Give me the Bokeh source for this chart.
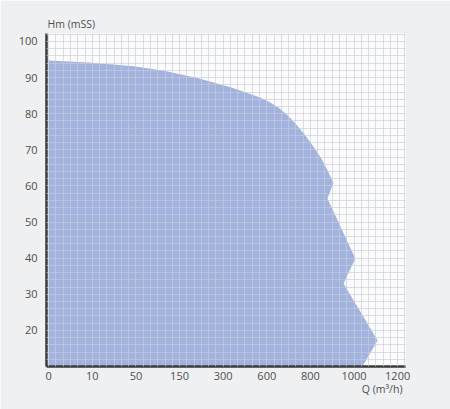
import numpy as np
from bokeh.plotting import figure
from bokeh.models import FixedTicker, Range1d, Title
from bokeh.embed import file_html
from bokeh.resources import INLINE

# Axis ticks (Q axis is evenly spaced at these flow values)
q_ticks = [0, 10, 50, 150, 300, 600, 800, 1000, 1200]
q_tick_labels = ["0", "10", "50", "150", "300", "600", "800", "1000", "1200"]
h_ticks = [20, 30, 40, 50, 60, 70, 80, 90, 100]

# Operating envelope: flow Q (m3/h) and head Hm (m)
q_env = [0, 0, 10, 48, 114, 211, 351, 510, 570, 616, 656, 694, 732, 770, 808, 846, 876, 906,
         878, 1006, 952, 1108, 1038]
h_env = [10, 94.7, 94.1, 93.1, 91.9, 89.9, 87.3, 85.1, 84.2, 83.1, 81.6, 79.6, 77.2, 74.5, 71.4, 68.0, 64.6, 60.8,
         56.5, 39.9, 33.0, 17.2, 10.0]

tick_pos = np.arange(len(q_ticks))
xs = np.interp(q_env, q_ticks, tick_pos)

FONT = "Open Sans"
X0, X1 = -0.05, 8.18
Y0, Y1 = 10, 102.2

p = figure(width=450, height=409, output_backend="svg", toolbar_location=None,
           x_range=Range1d(X0, X1), y_range=Range1d(Y0, Y1),
           min_border_left=46, min_border_right=45, min_border_top=33, min_border_bottom=43)
p.border_fill_color = "#eff0f2"
p.background_fill_color = "#fbfbfc"
p.outline_line_color = None

p.patch(xs, h_env, fill_color="#a1b3de", line_color=None)

# grids drawn above the fill
p.xgrid.ticker = FixedTicker(ticks=list(np.arange(0, 8.2, 1 / 6)))
p.ygrid.ticker = FixedTicker(ticks=list(np.arange(10, 103, 2)))
for g in (p.xgrid, p.ygrid):
    g.level = "guide"
    g.grid_line_color = "#c8ccd6"
    g.grid_line_alpha = 0.65
    g.grid_line_width = 1

p.xaxis.ticker = FixedTicker(ticks=list(tick_pos))
p.xaxis.major_label_overrides = {int(i): lab for i, lab in zip(tick_pos, q_tick_labels)}
p.yaxis.ticker = FixedTicker(ticks=h_ticks)

for ax in (p.xaxis, p.yaxis):
    ax.axis_line_color = "#3a3a3a"
    ax.axis_line_width = 2.5
    ax.major_tick_line_color = None
    ax.minor_tick_line_color = None
    ax.major_label_text_font = FONT
    ax.major_label_text_font_size = "11px"
    ax.major_label_text_color = "#4f4f4f"
p.xaxis.major_label_standoff = -1
p.yaxis.major_label_standoff = 3

p.add_layout(Title(text="Q (m³/h)", align="right", offset=3, standoff=-5, text_font=FONT,
                   text_font_size="10.5px", text_font_style="normal", text_color="#4f4f4f"), "below")
p.add_layout(Title(text="Hm (mSS)", align="left", offset=1, standoff=5, text_font=FONT,
                   text_font_size="10.5px", text_font_style="normal", text_color="#4f4f4f"), "above")

open("out.html", "w").write(file_html(p, INLINE))
